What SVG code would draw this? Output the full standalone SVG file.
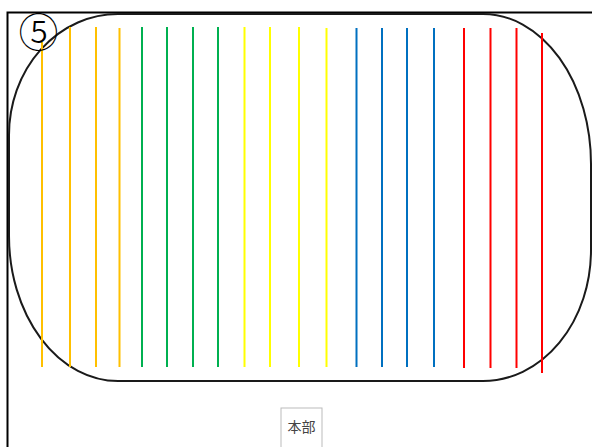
<svg xmlns="http://www.w3.org/2000/svg" width="592" height="447" viewBox="0 0 592 447">
<style>
.frame{fill:none;stroke:#000;stroke-width:2}
.track{fill:none;stroke:#1a1a1a;stroke-width:2}
.ln{stroke-width:2;fill:none}
.o{stroke:#FFC000}
.g{stroke:#00B050}
.y{stroke:#FFFF00}
.b{stroke:#0070C0}
.r{stroke:#FF0000}
.lbl{font-family:"Noto Sans CJK JP","Noto Sans",sans-serif;font-size:14px;fill:#444}
.num{font-family:"Noto Sans CJK JP","DejaVu Sans",sans-serif;font-size:40px;font-weight:300;fill:#000}
</style>
<rect width="592" height="447" fill="#fff"/>
<g id="frame">
<path class="frame" d="M7.5,447 L7.5,12.5 L592,12.5"/>
</g>
<g id="track">
<path class="track" d="M118,14 L483,14 A108,150 0 0 1 591,164 L591,250 A108,131 0 0 1 483,381 L118,381 A109,145 0 0 1 9,236 L9,135 A109,121 0 0 1 118,14 Z"/>
</g>
<g id="lanes">
<line class="ln o" x1="42" y1="42" x2="42" y2="367"/>
<line class="ln o" x1="70" y1="27" x2="70" y2="367"/>
<line class="ln o" x1="96" y1="27" x2="96" y2="367"/>
<line class="ln o" x1="119.5" y1="28" x2="119.5" y2="367"/>
<line class="ln g" x1="142" y1="27" x2="142" y2="367"/>
<line class="ln g" x1="167" y1="27" x2="167" y2="367"/>
<line class="ln g" x1="193" y1="27" x2="193" y2="367"/>
<line class="ln g" x1="218" y1="27" x2="218" y2="367"/>
<line class="ln y" x1="244.5" y1="27" x2="244.5" y2="367"/>
<line class="ln y" x1="270" y1="27" x2="270" y2="367"/>
<line class="ln y" x1="299" y1="27" x2="299" y2="367"/>
<line class="ln y" x1="326.5" y1="28" x2="326.5" y2="367"/>
<line class="ln b" x1="356.5" y1="28" x2="356.5" y2="367"/>
<line class="ln b" x1="382" y1="28" x2="382" y2="367"/>
<line class="ln b" x1="407" y1="28" x2="407" y2="367"/>
<line class="ln b" x1="434" y1="28" x2="434" y2="367"/>
<line class="ln r" x1="464" y1="28" x2="464" y2="368"/>
<line class="ln r" x1="490.5" y1="28" x2="490.5" y2="368"/>
<line class="ln r" x1="516.5" y1="28" x2="516.5" y2="368"/>
<line class="ln r" x1="542" y1="33" x2="542" y2="373"/>
</g>
<g id="number">
<text class="num" x="38.5" y="47" text-anchor="middle">⑤</text>
</g>
<g id="honbu">
<rect x="281" y="408" width="41" height="45" fill="#fff" stroke="#bbb" stroke-width="1"/>
<text class="lbl" x="301.5" y="432" text-anchor="middle">本部</text>
</g>
</svg>
